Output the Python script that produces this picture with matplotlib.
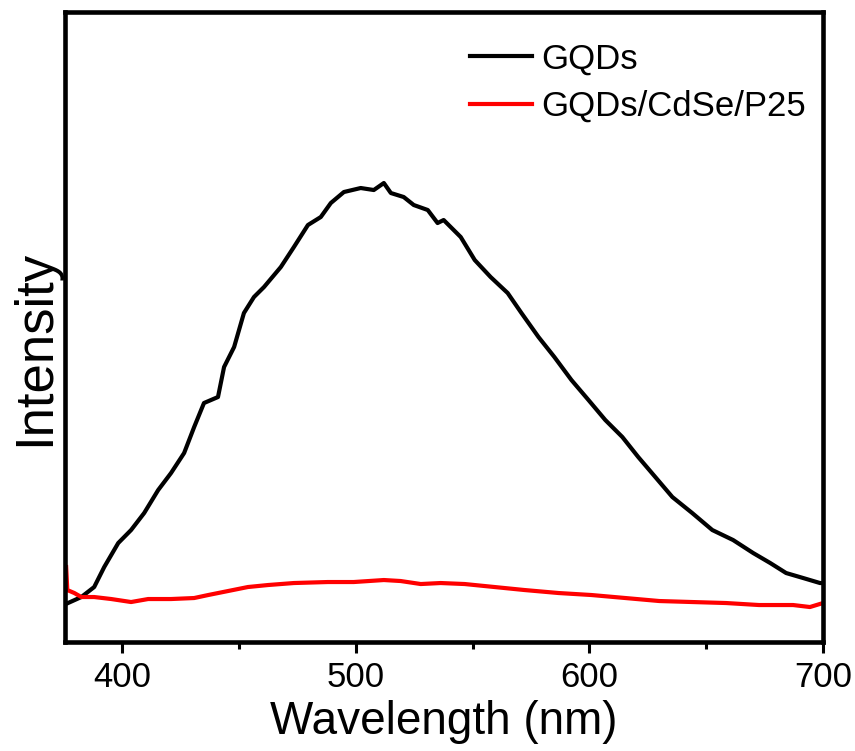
"""
PL spectra of GQDs vs GQDs/CdSe/P25 composite (quenching plot).
Values read off the published figure, intensity in arbitrary units.
"""

import matplotlib
matplotlib.use('Agg')
import matplotlib.pyplot as plt
from matplotlib.ticker import MultipleLocator

# ── GQDs emission ───────────────────────────────────────────────────────────
gqd_nm = [376.8, 382.5, 388.0, 392.3, 398.3, 403.8, 409.4, 415.4, 420.9,
          426.5, 430.8, 435.0, 441.0, 443.6, 447.9, 452.1, 456.4, 460.7,
          467.9, 473.5, 479.5, 485.0, 489.3, 494.9, 502.1, 507.7, 512.0,
          515.0, 520.5, 524.8, 530.8, 535.0, 537.6, 544.9, 550.9, 557.7,
          565.0, 570.9, 578.2, 585.0, 592.3, 599.6, 606.8, 614.1, 620.9,
          628.2, 635.5, 644.0, 652.6, 661.5, 670.1, 677.4, 684.2, 691.5,
          698.7, 700.0]
gqd_int = [39, 45, 55, 75, 99, 112, 129, 152, 169,
           189, 215, 239, 245, 275, 295, 329, 345, 355,
           375, 395, 417, 425, 439, 450, 454, 452, 459,
           449, 445, 437, 432, 419, 422, 405, 382, 365,
           349, 329, 305, 285, 262, 242, 222, 205, 185,
           165, 145, 129, 112, 102, 89, 79, 69, 64,
           59, 59]

# ── GQDs/CdSe/P25 emission ──────────────────────────────────────────────────
comp_nm = [376.0, 376.5, 379.5, 382.5, 388.0, 395.3, 403.8, 411.1, 420.9,
           430.8, 436.8, 445.3, 453.8, 462.4, 473.5, 488.0, 499.1, 512.0,
           519.2, 527.8, 536.3, 546.6, 559.4, 572.2, 586.8, 600.9, 615.4,
           629.9, 644.0, 658.5, 672.6, 687.2, 694.4, 700.0]
comp_int = [75, 52, 49, 45, 45, 43, 40, 43, 43,
            44, 47, 51, 55, 57, 59, 60, 60, 62,
            61, 58, 59, 58, 55, 52, 49, 47, 44,
            41, 40, 39, 37, 37, 35, 39]

labels = ['GQDs', 'GQDs/CdSe/P25']
colors = ['black', '#ff0000']

FONT = ['Liberation Sans', 'DejaVu Sans']


def main():
    plt.rcParams['font.family'] = FONT
    fig = plt.figure(figsize=(8.55, 7.51), dpi=100)
    ax = fig.add_axes([0.076, 0.1451, 0.8866, 0.8389])

    ax.plot(gqd_nm, gqd_int, color=colors[0], lw=3.0, label=labels[0])
    ax.plot(comp_nm, comp_int, color=colors[1], lw=3.0, label=labels[1])

    ax.set_xlim(375.5, 700)
    ax.set_ylim(0, 630)
    ax.set_yticks([])
    ax.xaxis.set_major_locator(MultipleLocator(100))
    ax.xaxis.set_minor_locator(MultipleLocator(50))
    ax.tick_params(axis='x', which='major', direction='out', length=8,
                   width=2.2, pad=6, labelsize=25)
    ax.tick_params(axis='x', which='minor', direction='out', length=5,
                   width=2.2)
    for sp in ax.spines.values():
        sp.set_linewidth(3.3)

    ax.set_xlabel('Wavelength (nm)', fontsize=33, labelpad=4)
    fig.text(35 / 855, 1 - 348 / 751, 'Intensity', rotation=90,
             ha='center', va='center', fontsize=38)

    ax.legend(loc='upper left', bbox_to_anchor=(0.534, 0.952),
              frameon=False, fontsize=25, handlelength=1.8,
              handletextpad=0.25, labelspacing=0.42,
              borderpad=0, borderaxespad=0)

    fig.savefig('out.png', dpi=100)


if __name__ == '__main__':
    main()
